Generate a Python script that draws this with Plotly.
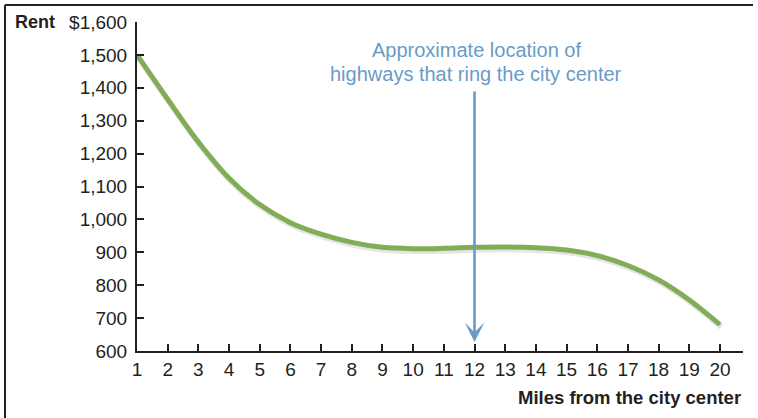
import plotly.graph_objects as go

# Monthly rent by distance from the city center
miles = list(range(1, 21))
rent = [1500, 1365, 1235, 1125, 1045, 990, 955, 930, 915, 911,
        912, 915, 916, 914, 907, 890, 860, 816, 755, 680]

y_ticks = [600, 700, 800, 900, 1000, 1100, 1200, 1300, 1400, 1500, 1600]
y_ticktext = ["600", "700", "800", "900", "1,000", "1,100", "1,200",
              "1,300", "1,400", "1,500", "$1,600"]
x_ticks = list(range(1, 21))

highway_mile = 12
arrow_top, arrow_tip = 1393, 627

INK = "#231f20"
GREEN = "#80ad55"
BLUE = "#6a9bc8"
FONT = "Liberation Sans, Arial, sans-serif"

X_RANGE = [1, 20.75]
Y_RANGE = [600, 1600]

fig = go.Figure()

# soft drop shadow under the rent curve (overlay axis nudged a couple of pixels)
fig.add_trace(go.Scatter(
    x=miles, y=rent, mode="lines", line=dict(color="rgba(0,0,0,0.10)", width=6, shape="spline"),
    xaxis="x2", yaxis="y2", hoverinfo="skip", showlegend=False))

# the rent curve itself, on an overlay drawn above the shadow
fig.add_trace(go.Scatter(
    x=miles, y=rent, mode="lines", line=dict(color=GREEN, width=5, shape="spline"),
    xaxis="x3", yaxis="y3", showlegend=False))

fig.update_layout(
    width=758, height=418,
    margin=dict(l=137, r=15, t=22, b=67),
    paper_bgcolor="white", plot_bgcolor="white",
    font=dict(family=FONT, size=19, color=INK),
    xaxis=dict(range=X_RANGE, tickvals=x_ticks, ticks="inside", ticklen=7, tickwidth=1.5,
               tickcolor=INK, showline=True, linecolor=INK, linewidth=2, showgrid=False,
               zeroline=False, tickfont=dict(size=19, color=INK), ticklabelstandoff=0),
    yaxis=dict(range=Y_RANGE, tickvals=y_ticks, ticktext=y_ticktext, ticks="inside",
               ticklen=7, tickwidth=1.5, tickcolor=INK, showline=True, linecolor=INK,
               linewidth=2, showgrid=False, zeroline=False,
               tickfont=dict(size=19, color=INK), ticklabelstandoff=4),
    xaxis2=dict(range=[X_RANGE[0] - 0.04, X_RANGE[1] - 0.04], overlaying="x", visible=False),
    yaxis2=dict(range=[Y_RANGE[0] + 7, Y_RANGE[1] + 7], overlaying="y", visible=False),
    xaxis3=dict(range=X_RANGE, overlaying="x", visible=False),
    yaxis3=dict(range=Y_RANGE, overlaying="y", visible=False),
)

# vertical arrow marking the ring highways
fig.add_annotation(
    x=highway_mile, y=arrow_tip, ax=highway_mile, ay=arrow_top,
    xref="x", yref="y", axref="x", ayref="y", text="",
    showarrow=True, arrowhead=3, arrowsize=1.25, arrowwidth=2.6, arrowcolor=BLUE)

fig.add_annotation(
    x=highway_mile + 0.05, y=1515, xref="x", yref="y", showarrow=False,
    text="Approximate location of", font=dict(size=20, color=BLUE))
fig.add_annotation(
    x=highway_mile + 0.05, y=1442, xref="x", yref="y", showarrow=False,
    text="highways that ring the city center", font=dict(size=20, color=BLUE))

# axis titles
fig.add_annotation(
    x=1.0, y=-0.14, xref="paper", yref="paper", xanchor="right", yanchor="middle",
    showarrow=False, text="<b>Miles from the city center</b>", font=dict(size=18.5, color=INK))
fig.add_annotation(
    x=-0.205, y=1.0, xref="paper", yref="paper", xanchor="left", yanchor="middle",
    showarrow=False, text="<b>Rent</b>", font=dict(size=18, color=INK))

# frame lines along the top and left edges
fig.add_shape(type="line", xref="paper", yref="paper", x0=-0.2178, x1=1.0165,
              y0=1.0517, y1=1.0517, line=dict(color=INK, width=2))
fig.add_shape(type="line", xref="paper", yref="paper", x0=-0.2178, x1=-0.2178,
              y0=1.0517, y1=-0.21, line=dict(color=INK, width=2))

fig.write_html("out.html")
